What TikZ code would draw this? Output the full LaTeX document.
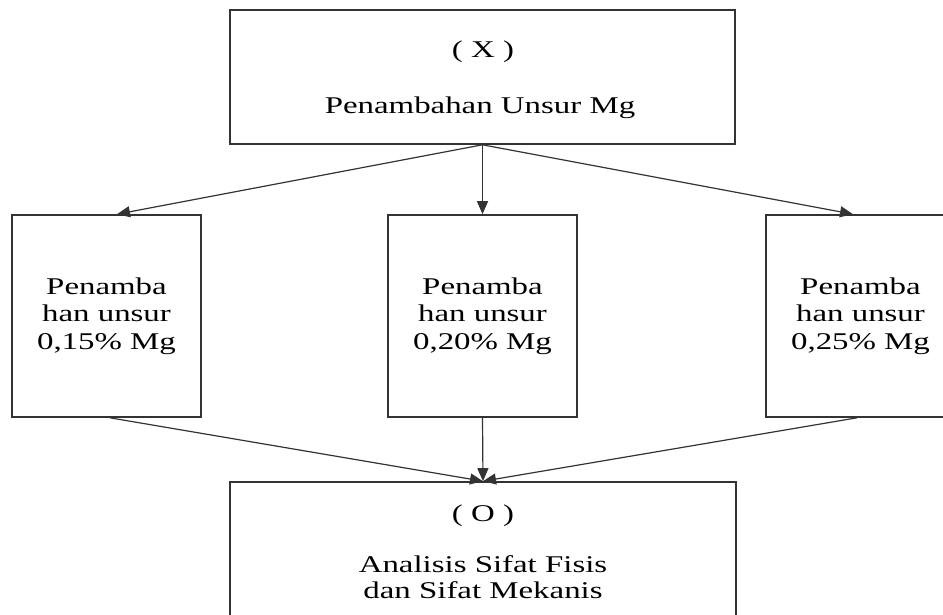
\documentclass[tikz,border=0pt]{standalone}
\usepackage{fontspec}
\setmainfont{Liberation Serif}[FakeStretch=1.37]
\usetikzlibrary{arrows.meta}
\begin{document}
\begin{tikzpicture}[x=1pt,y=-1pt,
  frame/.style={draw=black!80, line width=1.6pt, inner sep=0pt},
  smallbox/.style={frame, minimum width=189pt, minimum height=202pt, align=center,
    font=\fontsize{24}{27.5}\selectfont},
  txt/.style={inner sep=0pt, anchor=base, align=center, font=\fontsize{24}{26}\selectfont},
  arr/.style={draw=black!80, line width=1.2pt, -{Triangle[length=13pt,width=11pt]}}]
\useasboundingbox (0,0) rectangle (943,614);

% top box
\node[frame, minimum width=505pt, minimum height=134pt] (top) at (482.5,77) {};
\node[txt] (tx) at (483,57) {( X )};
\node[txt] (tpen) at (480,113) {Penambahan Unsur Mg};

% three boxes
\node[smallbox] (l) at (106.5,316) {Penamba\\han unsur\\0,15\% Mg};
\node[smallbox] (m) at (482.5,316) {Penamba\\han unsur\\0,20\% Mg};
\node[smallbox] (r) at (860.5,316) {Penamba\\han unsur\\0,25\% Mg};

% bottom box
\node[frame, minimum width=506pt, minimum height=160pt] (bot) at (483,562) {};
\node[txt] (bo) at (483,521) {( O )};
\node[txt] (bana) at (483,598) {Analisis Sifat Fisis\\dan Sifat Mekanis};

% connectors
\draw[arr] (top.south) -- ([xshift=10.5pt]l.north);
\draw[arr] (top.south) -- (m.north);
\draw[arr] (top.south) -- ([xshift=-7.5pt]r.north);
\draw[arr] ([xshift=3.5pt]l.south) -- (bot.north);
\draw[arr] (m.south) -- (bot.north);
\draw[arr] ([xshift=-3.5pt]r.south) -- (bot.north);
\end{tikzpicture}
\end{document}
